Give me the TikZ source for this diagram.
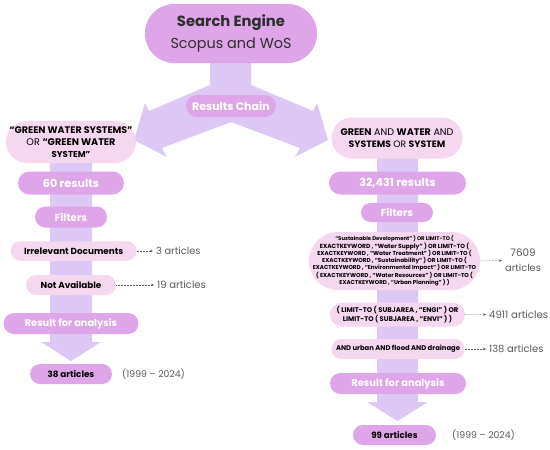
\documentclass[tikz,border=0pt]{standalone}
\usepackage{graphicx}
\usepackage{fontspec}
\setmainfont{Poppins}
\usetikzlibrary{arrows.meta}
\definecolor{orch}{RGB}{222,166,232}
\definecolor{pinkl}{RGB}{245,215,240}
\definecolor{lav}{RGB}{221,200,245}
\definecolor{grayt}{RGB}{90,90,90}
\definecolor{darkt}{RGB}{45,45,45}
\newcommand{\fitw}[2]{\resizebox{#1pt}{!}{#2}}
\begin{document}
\begin{tikzpicture}[x=1pt,y=-1pt,
  box/.style={draw=none, inner sep=0pt, align=center},
  orchbox/.style={box, fill=orch, text=white},
  pinkbox/.style={box, fill=pinkl, text=black},
  lbl/.style={anchor=west, inner sep=3pt, text=grayt, font=\fontsize{9.5}{15}\selectfont},
  dotarrow/.style={densely dotted, draw=grayt, line width=0.5pt, -{Stealth[length=3pt,width=2.5pt]}}]
\path[fill=white, use as bounding box] (0,0) rectangle (550,450);
% split arrow
\fill[lav] (210,60) -- (251,60) -- (251,85) -- (313,111) -- (317,103) -- (328,140)
  -- (295,157) -- (300,148) -- (231,122) -- (162,148) -- (167,157) -- (134,140)
  -- (145,103) -- (149,111) -- (210,85) -- cycle;
% column arrows
\fill[lav] (50,155) -- (92,155) -- (92,342) -- (101,342) -- (71,361) -- (41,342) -- (50,342) -- cycle;
\fill[lav] (377,155) -- (418,155) -- (418,402) -- (428,402) -- (397.5,421) -- (367,402) -- (377,402) -- cycle;
% top
\node[box, fill=orch, text=darkt, minimum width=172pt, minimum height=59pt, rounded corners=29pt,
  font=\fontsize{14.5}{21.7}\selectfont] (top) at (231,33.5) {\fitw{108}{\bfseries Search Engine}\\\fitw{121}{Scopus and WoS}};
\node[orchbox, minimum width=90pt, minimum height=22pt, rounded corners=11pt,
  font=\fontsize{10.5}{12}\selectfont\bfseries] (chain) at (231,106) {\fitw{77.5}{Results Chain}};
% left query
\node[pinkbox, minimum width=130pt, minimum height=42pt, rounded corners=21pt,
  font=\fontsize{9}{11.7}\selectfont] (lq) at (71,142) {\fitw{123}{\bfseries “GREEN WATER SYSTEMS”}\\\fitw{89}{OR \bfseries “GREEN WATER}\\\fitw{38.6}{\bfseries SYSTEM”}};
% right query
\node[pinkbox, minimum width=131pt, minimum height=41pt, rounded corners=20.5pt,
  font=\fontsize{9}{11.7}\selectfont] (rq) at (397,138) {\fitw{113}{{\bfseries GREEN} AND {\bfseries WATER} AND}\\\fitw{96.5}{{\bfseries SYSTEMS} OR {\bfseries SYSTEM}}};
% left column
\node[orchbox, minimum width=106pt, minimum height=23pt, rounded corners=11.5pt,
  font=\fontsize{10.5}{12}\selectfont\bfseries] (l60) at (71,183) {\fitw{56}{60 results}};
\node[orchbox, minimum width=72pt, minimum height=21pt, rounded corners=10.5pt,
  font=\fontsize{9.5}{11}\selectfont\bfseries] (lfil) at (71,217) {\fitw{32.3}{Filters}};
\node[pinkbox, minimum width=126pt, minimum height=19.5pt, rounded corners=9.75pt,
  font=\fontsize{7.5}{9}\selectfont\bfseries] (irr) at (73.7,251) {\fitw{99.3}{Irrelevant Documents}};
\node[pinkbox, minimum width=90pt, minimum height=20pt, rounded corners=10pt,
  font=\fontsize{7.5}{9}\selectfont\bfseries] (na) at (71,285) {\fitw{60.7}{Not Available}};
\node[orchbox, minimum width=135pt, minimum height=21pt, rounded corners=10.5pt,
  font=\fontsize{10}{12}\selectfont\bfseries] (lres) at (71,323.5) {\fitw{92.3}{Result for analysis}};
\node[orchbox, text=black, minimum width=82pt, minimum height=20pt, rounded corners=10pt,
  font=\fontsize{8}{9}\selectfont\bfseries] (l38) at (71,374) {\fitw{46.7}{38 articles}};
\node[lbl] (irrl) at (153,251) {\fitw{44.3}{3 articles}};
\node[lbl] (nal) at (154,285) {\fitw{48.7}{19 articles}};
\node[lbl] (lyear) at (119,374) {\fitw{62.7}{(1999 – 2024)}};
\draw[dotarrow] (irr.east) -- (irrl.west);
\draw[dotarrow] (na.east) -- (nal.west);
% right column
\node[orchbox, minimum width=137pt, minimum height=23pt, rounded corners=11.5pt,
  font=\fontsize{10.5}{12}\selectfont\bfseries] (r32) at (397.5,183) {\fitw{76.3}{32,431 results}};
\node[orchbox, minimum width=72pt, minimum height=19pt, rounded corners=9.5pt,
  font=\fontsize{9.5}{11}\selectfont\bfseries] (rfil) at (397,212.5) {\fitw{32.3}{Filters}};
\node[pinkbox, minimum width=171pt, minimum height=58pt, rounded corners=29pt,
  font=\fontsize{5}{7.3}\selectfont\bfseries] (big) at (394.5,261) {\fitw{118.3}{“Sustainable Development” ) OR LIMIT-TO (}\\\fitw{149.3}{EXACTKEYWORD , “Water Supply” ) OR LIMIT-TO (}\\\fitw{154.3}{EXACTKEYWORD , “Water Treatment” ) OR LIMIT-TO (}\\\fitw{144.7}{EXACTKEYWORD , “Sustainability” ) OR LIMIT-TO (}\\\fitw{163.3}{EXACTKEYWORD , “Environmental Impact” ) OR LIMIT-TO}\\\fitw{156.7}{( EXACTKEYWORD , “Water Resources” ) OR LIMIT-TO (}\\\fitw{110}{EXACTKEYWORD , “Urban Planning” ) )}};
\node[pinkbox, minimum width=135pt, minimum height=24pt, rounded corners=12pt,
  font=\fontsize{6}{8.3}\selectfont\bfseries] (subj) at (397.5,314.7) {\fitw{121.7}{( LIMIT-TO ( SUBJAREA , “ENGI” ) OR}\\\fitw{109}{LIMIT-TO ( SUBJAREA , “ENVI” ) )}};
\node[pinkbox, minimum width=133pt, minimum height=20pt, rounded corners=10pt,
  font=\fontsize{6.3}{8}\selectfont\bfseries] (urb) at (398,349) {\fitw{124}{AND urban AND flood AND drainage}};
\node[orchbox, minimum width=136pt, minimum height=21pt, rounded corners=10.5pt,
  font=\fontsize{10}{12}\selectfont\bfseries] (rres) at (398,383.5) {\fitw{93.3}{Result for analysis}};
\node[orchbox, text=black, minimum width=83pt, minimum height=20pt, rounded corners=10pt,
  font=\fontsize{8}{9}\selectfont\bfseries] (r99) at (394.5,435) {\fitw{46.3}{99 articles}};
\node[lbl, align=center, anchor=center] (bigl) at (523,260.5) {\fitw{25.3}{7609}\\\fitw{35.7}{articles}};
\node[lbl] (subjl) at (486,314.5) {\fitw{59}{4911 articles}};
\node[lbl] (urbl) at (486,349) {\fitw{54.3}{138 articles}};
\node[lbl] (ryear) at (449,435) {\fitw{62.7}{(1999 – 2024)}};
\draw[dotarrow] (big.east) -- (bigl.west);
\draw[dotarrow] (subj.east) -- (subjl.west);
\draw[dotarrow] (urb.east) -- (urbl.west);
\end{tikzpicture}
\end{document}
